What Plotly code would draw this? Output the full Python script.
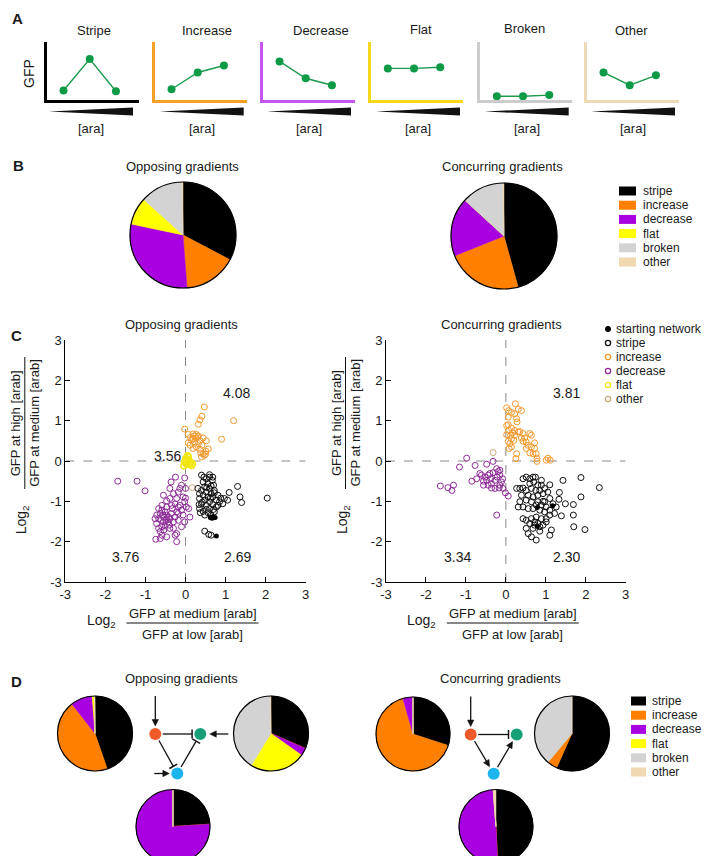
import numpy as np
import plotly.graph_objects as go

W, H = 709, 856
FONT = "Arial, Liberation Sans, Helvetica, sans-serif"
TXT = "#1a1a1a"


def X(px):
    return px / W


def Y(py):
    return 1 - py / H


# ---------------- Panel A data ----------------
pattern_names = ["Stripe", "Increase", "Decrease", "Flat", "Broken", "Other"]
pattern_axis_colors = ["#000000", "#F4A024", "#C455F0", "#F7D71E", "#CCCCCC", "#EDD9B6"]
ara_levels = [1, 2, 3]
gfp_stripe = [0.17, 0.71, 0.155]
gfp_increase = [0.19, 0.48, 0.60]
gfp_decrease = [0.67, 0.38, 0.26]
gfp_flat = [0.55, 0.55, 0.57]
gfp_broken = [0.07, 0.07, 0.09]
gfp_other = [0.48, 0.26, 0.43]
gfp_profiles = [gfp_stripe, gfp_increase, gfp_decrease, gfp_flat, gfp_broken, gfp_other]

# ---------------- Pie data (percent) ----------------
categories = ["stripe", "increase", "decrease", "flat", "broken", "other"]
pie_colors = ["#000000", "#FF8000", "#A800E0", "#FFFF00", "#D3D3D3", "#F0D8B0"]
pie_b_opposing = [32.7, 16.1, 29.5, 8.4, 13.0, 0.3]
pie_b_concurring = [45.7, 23.2, 17.9, 0.0, 12.9, 0.3]
pie_d_opp_left = [44.7, 44.7, 9.4, 1.0, 0.0, 0.2]
pie_d_opp_right = [31.5, 0.0, 3.3, 24.0, 40.9, 0.3]
pie_d_opp_bottom = [24.0, 0.0, 76.0, 0.0, 0.0, 0.0]
pie_d_conc_left = [30.0, 65.6, 4.4, 0.0, 0.0, 0.0]
pie_d_conc_right = [56.7, 4.4, 0.0, 0.0, 38.9, 0.0]
pie_d_conc_bottom = [49.3, 0.0, 49.5, 0.0, 0.0, 1.2]

# ---------------- Panel C data ----------------
scatter_ticks = [-3, -2, -1, 0, 1, 2, 3]
scatter_tick_text = ["-3", "-2", "-1", "0", "1", "2", "3"]

opp_increase = [(0.47, 1.34), (0.41, 1.11), (0.36, 1.02), (0.32, 0.91), (1.20, 1.00), (-0.02, 0.79),
                (0.19, 0.67), (0.07, 0.66), (0.27, 0.66), (0.32, 0.62), (0.36, 0.51), (0.52, 0.50),
                (0.90, 0.54), (0.15, 0.51), (0.07, 0.45), (0.23, 0.47), (0.41, 0.39), (0.27, 0.35),
                (0.36, 0.29), (0.51, 0.24), (0.57, 0.30), (0.44, 0.18), (0.40, 0.10), (0.47, 0.14),
                (0.19, 0.31), (0.11, 0.39), (0.32, 0.43), (0.19, 0.55), (0.44, 0.57), (0.26, 0.57),
                (0.30, 0.60), (0.22, 0.62), (0.38, 0.20), (0.50, 0.17), (0.12, 0.58)]
opp_flat = [(0.01, 0.06), (0.07, 0.02), (0.11, -0.02), (0.02, -0.07), (0.15, -0.11), (-0.04, -0.12),
            (0.07, 0.10), (0.17, -0.07), (-0.02, -0.02), (0.05, 0.13), (0.10, -0.08)]
opp_other = [(0.17, -0.66)]
opp_decrease = [(-1.69, -0.50), (-1.21, -0.50), (-1.01, -0.74), (-0.36, -0.52), (-0.25, -0.40), (-0.02, -0.42),
                (-0.10, -0.60), (-0.18, -0.77), (-0.55, -0.85), (-0.47, -0.99), (-0.39, -0.93), (-0.22, -0.93),
                (-0.06, -0.89), (-0.02, -1.01), (0.02, -1.14), (-0.14, -1.10), (-0.26, -1.06), (-0.33, -1.18),
                (0.08, -1.18), (0.11, -1.39), (-0.06, -1.34), (-0.02, -1.51), (-0.18, -1.47), (-0.10, -1.63),
                (-0.22, -1.80), (-0.26, -1.84), (-0.22, -2.00), (-0.39, -1.67), (-0.47, -1.88), (-0.59, -1.84),
                (-0.74, -1.94), (-0.63, -1.92), (-0.55, -1.51), (-0.72, -1.55), (-0.67, -1.43), (-0.59, -1.22),
                (-0.51, -1.26), (-0.47, -1.34), (-0.39, -1.43), (-0.30, -1.51), (-0.43, -1.51), (-0.55, -1.39),
                (-0.63, -1.30), (-0.72, -1.34), (-0.51, -1.61), (-0.59, -1.63), (-0.47, -1.43), (-0.35, -1.30),
                (-0.26, -1.39), (-0.18, -1.30), (-0.10, -1.22), (-0.22, -1.26), (-0.59, -1.10), (-0.67, -1.18),
                (-0.47, -1.14), (-0.35, -1.10), (-0.41, -1.59), (-0.54, -1.71), (-0.30, -1.67), (-0.63, -1.75),
                (-0.67, -1.67), (-0.76, -1.43), (-0.56, -1.34), (-0.49, -1.47), (-0.42, -1.39), (-0.61, -1.47),
                (-0.18, -1.14), (0.00, -0.92), (0.00, -0.68), (-0.39, -0.68), (-0.30, -0.81), (-0.14, -0.68)]
opp_stripe = [(0.40, -0.35), (0.60, -0.34), (0.52, -0.44), (0.67, -0.48), (0.44, -0.52), (0.56, -0.56),
              (0.70, -0.60), (0.48, -0.64), (0.60, -0.68), (0.40, -0.73), (0.72, -0.73), (0.52, -0.77),
              (0.64, -0.81), (0.44, -0.85), (0.35, -0.93), (0.56, -0.89), (0.68, -0.89), (0.48, -0.97),
              (0.60, -1.01), (0.77, -0.97), (0.40, -1.06), (0.52, -1.10), (0.68, -1.08), (0.35, -1.18),
              (0.44, -1.25), (0.60, -1.18), (0.77, -1.14), (0.72, -1.26), (0.56, -1.28), (0.64, -1.34),
              (0.48, -1.34), (0.37, -1.28), (0.81, -0.85), (0.85, -1.01), (0.93, -1.06), (1.05, -0.97),
              (1.09, -0.78), (1.30, -0.63), (1.36, -0.89), (1.40, -1.03), (2.04, -0.92), (0.48, -1.74),
              (0.58, -1.82), (0.64, -1.84), (0.31, -0.68), (0.60, -0.40), (0.68, -0.40), (0.35, -0.81),
              (0.64, -0.62), (0.46, -0.40), (0.53, -0.66), (0.62, -0.92), (0.42, -1.02), (0.52, -1.20),
              (0.70, -1.20), (0.81, -1.10), (0.88, -0.92), (0.97, -0.93), (0.72, -0.79), (0.34, -1.08)]
opp_start = [(0.62, -1.40), (0.66, -1.42), (0.70, -1.41), (0.74, -1.40), (0.68, -1.38), (0.77, -1.86)]

conc_increase = [(0.02, 1.32), (0.07, 1.25), (0.24, 1.42), (0.14, 1.20), (0.22, 1.17), (0.31, 1.28),
                 (0.39, 1.25), (0.06, 1.09), (0.27, 1.05), (0.28, 0.97), (0.06, 0.90), (0.14, 0.82),
                 (0.07, 0.76), (0.02, 0.65), (0.12, 0.64), (0.22, 0.64), (0.35, 0.73), (0.43, 0.68),
                 (0.60, 0.68), (0.64, 0.64), (0.14, 0.55), (0.20, 0.51), (0.10, 0.43), (0.14, 0.35),
                 (0.08, 0.31), (0.47, 0.57), (0.43, 0.49), (0.51, 0.47), (0.56, 0.39), (0.64, 0.35),
                 (0.72, 0.45), (0.72, 0.31), (0.68, 0.18), (0.76, 0.18), (0.78, 0.06), (0.78, -0.01),
                 (1.05, 0.07), (1.11, 0.02), (1.01, 0.02), (0.27, 0.18), (0.25, 0.06), (0.51, 0.31),
                 (0.39, 0.57), (0.02, 0.88), (0.17, 0.70), (0.06, 0.49), (0.60, 0.20), (0.31, 0.72),
                 (0.22, 0.76)]
conc_other = [(-0.32, 0.21)]
conc_decrease = [(-1.64, -0.62), (-1.45, -0.66), (-1.35, -0.73), (-1.31, -0.60), (-1.16, -0.15), (-0.98, 0.07),
                 (-0.85, -0.50), (-0.77, -0.11), (-0.73, -0.44), (-0.61, -0.35), (-0.48, -0.08), (-0.32, -0.01),
                 (-0.65, -0.31), (-0.56, -0.50), (-0.44, -0.35), (-0.48, -0.48), (-0.38, -0.44), (-0.32, -0.29),
                 (-0.23, -0.19), (-0.19, -0.26), (-0.15, -0.35), (-0.27, -0.48), (-0.36, -0.56), (-0.27, -0.68),
                 (-0.15, -0.60), (-0.11, -0.52), (-0.07, -0.68), (-0.01, -0.79), (0.06, -0.87), (-0.22, -0.40),
                 (-0.40, -0.31), (-0.52, -0.40), (-0.23, -1.34), (-0.15, -0.23), (-0.08, -0.44), (-0.17, -0.67),
                 (-0.36, -0.67), (-0.44, -0.60), (-0.56, -0.60)]
conc_stripe = [(0.35, -0.68), (0.43, -0.67), (0.43, -0.44), (0.51, -0.40), (0.60, -0.44), (0.68, -0.40),
               (0.74, -0.40), (0.80, -0.60), (0.89, -0.60), (0.85, -0.73), (0.75, -0.73), (0.64, -0.68),
               (0.56, -0.85), (0.68, -0.89), (0.80, -0.85), (0.93, -0.81), (1.05, -0.77), (0.93, -1.00),
               (0.80, -1.01), (0.64, -1.01), (0.51, -0.97), (0.35, -1.01), (0.43, -1.14), (0.56, -1.18),
               (0.68, -1.18), (0.85, -1.22), (0.97, -1.26), (1.10, -1.22), (1.22, -1.30), (1.01, -1.43),
               (0.89, -1.43), (0.76, -1.39), (0.64, -1.43), (0.51, -1.47), (0.43, -1.43), (0.60, -1.55),
               (0.72, -1.59), (0.85, -1.63), (0.68, -1.67), (0.64, -1.88), (0.76, -1.96), (1.10, -1.84),
               (1.14, -1.71), (1.01, -1.51), (1.10, -1.34), (1.34, -0.78), (1.43, -0.48), (1.33, -0.95),
               (1.49, -1.06), (1.69, -1.08), (1.69, -1.34), (1.70, -1.63), (1.98, -1.70), (1.88, -0.41),
               (1.88, -0.89), (2.34, -0.66), (1.39, -1.36), (1.18, -1.06), (1.26, -1.14), (1.10, -0.59),
               (0.97, -0.68), (0.97, -1.01), (1.10, -0.93), (0.60, -0.56), (0.70, -0.52), (0.89, -0.48),
               (0.51, -0.73), (0.39, -0.85), (0.31, -1.14), (0.76, -1.09), (0.89, -1.09), (1.01, -1.14),
               (0.72, -1.51), (0.80, -1.55), (0.93, -1.59), (0.51, -1.67), (0.56, -1.80), (0.85, -1.74),
               (0.27, -0.68)]
conc_start = [(0.79, -1.15), (1.17, -1.11), (0.79, -1.62)]

quadrant_labels_opp = [(1.28, 1.68, "4.08"), (-0.44, 0.12, "3.56"), (-1.5, -2.38, "3.76"), (1.3, -2.38, "2.69")]
quadrant_labels_conc = [(1.52, 1.68, "3.81"), (-1.2, -2.38, "3.34"), (1.52, -2.38, "2.30")]

sc_names = ["starting network", "stripe", "increase", "decrease", "flat", "other"]
sc_colors = ["#000000", "#111111", "#F39A2E", "#8E2C98", "#F2E60F", "#C9A77A"]

# ---------------- Figure ----------------
fig = go.Figure()
shapes = []
annotations = []
axes = {}
LEG_FONT = 12
LEG_STEP = 14.2


def txt(px, py, s, size=13, angle=0, xanchor="center", yanchor="middle", bold=False, color=TXT):
    annotations.append(dict(x=X(px), y=Y(py), xref="paper", yref="paper",
                            text=(f"<b>{s}</b>" if bold else s), showarrow=False,
                            font=dict(family=FONT, size=size, color=color), textangle=angle,
                            xanchor=xanchor, yanchor=yanchor))


# Panel letters
txt(9.5, 10.5, "A", size=15, bold=True)
txt(10, 157, "B", size=15, bold=True)
txt(8, 327, "C", size=15, bold=True)
txt(8, 673, "D", size=15, bold=True)

# ---------------- Panel A ----------------
mini_left = [39, 147, 255, 363.3, 472.3, 579]
mini_w = 92
mini_top, mini_bottom = 34.3, 92.3
title_x = [86, 198.5, 313, 412.5, 516, 623]
title_y = [22.5, 22.5, 22.5, 22, 20.5, 22.5]
wedge_left = [41, 151.7, 259, 368, 476.7, 583]
wedge_w = 84

for i, (name, col, prof) in enumerate(zip(pattern_names, pattern_axis_colors, gfp_profiles)):
    n = "" if i == 0 else str(i + 1)
    axes[f"xaxis{n}"] = dict(domain=[X(mini_left[i]), X(mini_left[i] + mini_w)], range=[0.37, 3.88],
                             anchor=f"y{n}", showline=True, linecolor=col, linewidth=3,
                             showticklabels=False, ticks="", showgrid=False, zeroline=False)
    axes[f"yaxis{n}"] = dict(domain=[Y(mini_bottom), Y(mini_top)], range=[0, 1],
                             anchor=f"x{n}", showline=True, linecolor=col, linewidth=3,
                             showticklabels=False, ticks="", showgrid=False, zeroline=False)
    fig.add_trace(go.Scatter(x=ara_levels, y=prof, mode="lines+markers", xaxis=f"x{n}", yaxis=f"y{n}",
                             line=dict(color="#1E9A50", width=1.4),
                             marker=dict(color="#0F9A48", size=8), showlegend=False, cliponaxis=False,
                             hoverinfo="skip"))
    txt(title_x[i], title_y[i], name, size=13)
    wl = wedge_left[i]
    shapes.append(dict(type="path", xref="paper", yref="paper",
                       path=f"M {X(wl)},{Y(103.5)} L {X(wl + wedge_w)},{Y(99.5)} L {X(wl + wedge_w)},{Y(107.5)} Z",
                       fillcolor="#111111", line=dict(width=0)))
    txt(wl + wedge_w / 2, 120, "[ara]", size=13)

txt(21, 66, "GFP", size=14, angle=-90)

# ---------------- Pies ----------------


def add_pie(vals, cx, cy, r):
    fig.add_trace(go.Pie(values=vals, labels=categories, sort=False, direction="clockwise", rotation=0,
                         marker=dict(colors=pie_colors, line=dict(color=pie_colors, width=0.5)),
                         textinfo="none", textposition="none", hoverinfo="label+percent", showlegend=False,
                         domain=dict(x=[X(cx - r), X(cx + r)], y=[Y(cy + r), Y(cy - r)])))
    shapes.append(dict(type="circle", xref="paper", yref="paper", x0=X(cx - r), x1=X(cx + r),
                       y0=Y(cy + r), y1=Y(cy - r), line=dict(color="black", width=1.2), layer="above"))


def square_legend(x0, w, y0, text_x):
    for k, (cat, col) in enumerate(zip(categories, pie_colors)):
        yy = y0 + LEG_STEP * k
        shapes.append(dict(type="rect", xref="paper", yref="paper", x0=X(x0), x1=X(x0 + w),
                           y0=Y(yy + 4.5), y1=Y(yy - 4.5), fillcolor=col, line=dict(width=0)))
        txt(text_x, yy, cat, size=LEG_FONT, xanchor="left")


# Panel B
txt(174, 158, "Opposing gradients")
txt(494, 158, "Concurring gradients")
add_pie(pie_b_opposing, 175, 227, 53)
add_pie(pie_b_concurring, 496, 228, 53)
square_legend(611, 17, 183, 633)

# Panel D
txt(173, 670, "Opposing gradients")
txt(492, 670, "Concurring gradients")
add_pie(pie_d_opp_left, 87, 725.5, 37.5)
add_pie(pie_d_opp_right, 263, 725.5, 37.5)
add_pie(pie_d_opp_bottom, 165, 818.5, 37)
add_pie(pie_d_conc_left, 405, 726, 37)
add_pie(pie_d_conc_right, 564, 725.5, 37.5)
add_pie(pie_d_conc_bottom, 488, 818.5, 37)
square_legend(623, 15, 693, 642)

# Network diagrams
NODE_R = 6
INK = "#111111"


def seg(a, b, width=1.3):
    shapes.append(dict(type="line", xref="paper", yref="paper", x0=X(a[0]), y0=Y(a[1]),
                       x1=X(b[0]), y1=Y(b[1]), line=dict(color=INK, width=width)))


def arrow(head, tail):
    head, tail = np.array(head, float), np.array(tail, float)
    d = head - tail
    u = d / np.linalg.norm(d)
    p = np.array([-u[1], u[0]])
    base = head - u * 6.5
    seg(tail, base + u * 0.5)
    a, b = base + p * 3.2, base - p * 3.2
    shapes.append(dict(type="path", xref="paper", yref="paper",
                       path=f"M {X(head[0])},{Y(head[1])} L {X(a[0])},{Y(a[1])} L {X(b[0])},{Y(b[1])} Z",
                       fillcolor=INK, line=dict(color=INK, width=0.5)))


def network(O, G, B, opposing):
    O, G, B = np.array(O), np.array(G), np.array(B)

    def edge(a, b, kind):
        d = b - a
        u = d / np.linalg.norm(d)
        start = a + u * (NODE_R + 1.5)
        end = b - u * (NODE_R + 2.2)
        if kind == "inhibit":
            seg(start, end)
            p = np.array([-u[1], u[0]]) * 4.5
            seg(end + p, end - p, width=1.5)
        else:
            arrow(end, start)

    arrow((O[0], O[1] - NODE_R - 2), (O[0], O[1] - 38))
    edge(O, G, "inhibit")
    if opposing:
        edge(O, B, "inhibit")
        edge(B, G, "inhibit")
        arrow((G[0] + NODE_R + 3.5, G[1]), (G[0] + NODE_R + 22, G[1]))
        arrow((B[0] - NODE_R - 2, B[1]), (B[0] - NODE_R - 17, B[1]))
    else:
        edge(O, B, "activate")
        edge(B, G, "activate")
    for c, col in [(O, "#EE5A2A"), (G, "#17A077"), (B, "#1DB5EE")]:
        shapes.append(dict(type="circle", xref="paper", yref="paper", x0=X(c[0] - NODE_R),
                           x1=X(c[0] + NODE_R), y0=Y(c[1] + NODE_R), y1=Y(c[1] - NODE_R),
                           fillcolor=col, line=dict(width=0)))


network((147.3, 726), (192.3, 726), (169.3, 765.5), True)
network((462.7, 726.5), (508.7, 726.5), (485.7, 765.7), False)

# ---------------- Panel C ----------------
sc_y_dom = [Y(574), Y(332)]
panels = [
    ("7", 57.3, 297.7, "Opposing gradients",
     [opp_start, opp_stripe, opp_increase, opp_decrease, opp_flat, opp_other], quadrant_labels_opp),
    ("8", 378, 617.7, "Concurring gradients",
     [conc_start, conc_stripe, conc_increase, conc_decrease, [], conc_other], quadrant_labels_conc),
]
for n, lpx, rpx, title, groups, qlabels in panels:
    common = dict(range=[-3, 3], showline=True, linecolor="black", linewidth=1, ticks="inside", ticklen=5,
                  tickwidth=1, tickcolor="black", tickvals=scatter_ticks, ticktext=scatter_tick_text,
                  showgrid=False, zeroline=False, automargin=False,
                  tickfont=dict(family=FONT, size=13, color=TXT))
    axes[f"xaxis{n}"] = dict(domain=[X(lpx), X(rpx)], anchor=f"y{n}", **common)
    axes[f"yaxis{n}"] = dict(domain=sc_y_dom, anchor=f"x{n}", **common)
    shapes.append(dict(type="line", xref=f"x{n}", yref=f"y{n}", x0=0, x1=0, y0=-3, y1=3,
                       line=dict(color="#8a8a8a", width=1, dash="dash"), layer="below"))
    shapes.append(dict(type="line", xref=f"x{n}", yref=f"y{n}", x0=-3, x1=3, y0=0, y1=0,
                       line=dict(color="#8a8a8a", width=1, dash="dash"), layer="below"))
    order = [3, 2, 4, 5, 1, 0]
    for k in order:
        pts = groups[k]
        if not pts:
            continue
        xs = [p[0] for p in pts]
        ys = [p[1] for p in pts]
        if k == 0:
            mk = dict(symbol="circle", size=5, color="#000000")
        else:
            mk = dict(symbol="circle-open", size=6, color=sc_colors[k],
                      line=dict(width=1.6 if k == 4 else 1, color=sc_colors[k]))
        fig.add_trace(go.Scatter(x=xs, y=ys, mode="markers", xaxis=f"x{n}", yaxis=f"y{n}", marker=mk,
                                 name=sc_names[k], showlegend=False))
    for qx, qy, qs in qlabels:
        annotations.append(dict(x=qx, y=qy, xref=f"x{n}", yref=f"y{n}", text=qs, showarrow=False,
                                font=dict(family=FONT, size=14, color=TXT)))
    cx = (lpx + rpx) / 2
    txt(cx - 4, 316, title)
    fx = cx + 7
    txt(fx, 605, "GFP at medium [arab]")
    txt(fx, 626, "GFP at low [arab]")
    seg((fx - 66, 615), (fx + 66, 615), width=1)
    txt(cx - 84, 613, "Log<sub>2</sub>", size=14)
    fy = 415
    txt(lpx - 50, fy, "GFP at high [arab]", angle=-90)
    txt(lpx - 31.5, fy, "GFP at medium [arab]", angle=-90)
    seg((lpx - 40.5, fy - 66), (lpx - 40.5, fy + 66), width=1)
    txt(lpx - 43, 512, "Log<sub>2</sub>", size=14, angle=-90)

# Scatter legend (manual)
LEG_C_X = 600
for k, (nm, col) in enumerate(zip(sc_names, sc_colors)):
    yy = 321 + 14 * k
    rr = 2.6
    if k == 0:
        shapes.append(dict(type="circle", xref="paper", yref="paper", x0=X(LEG_C_X - rr), x1=X(LEG_C_X + rr),
                           y0=Y(yy + rr), y1=Y(yy - rr), fillcolor="black", line=dict(color="black", width=1)))
    else:
        shapes.append(dict(type="circle", xref="paper", yref="paper", x0=X(LEG_C_X - rr), x1=X(LEG_C_X + rr),
                           y0=Y(yy + rr), y1=Y(yy - rr), line=dict(color=col, width=1.3)))
    txt(LEG_C_X + 6, yy, nm, size=LEG_FONT, xanchor="left")

fig.update_layout(
    width=W, height=H, autosize=False, template="none",
    margin=dict(l=0, r=0, t=0, b=0, pad=0),
    paper_bgcolor="white", plot_bgcolor="rgba(0,0,0,0)",
    font=dict(family=FONT, size=13, color=TXT),
    showlegend=False, shapes=shapes, annotations=annotations, **axes,
)

fig.write_html("out.html")
